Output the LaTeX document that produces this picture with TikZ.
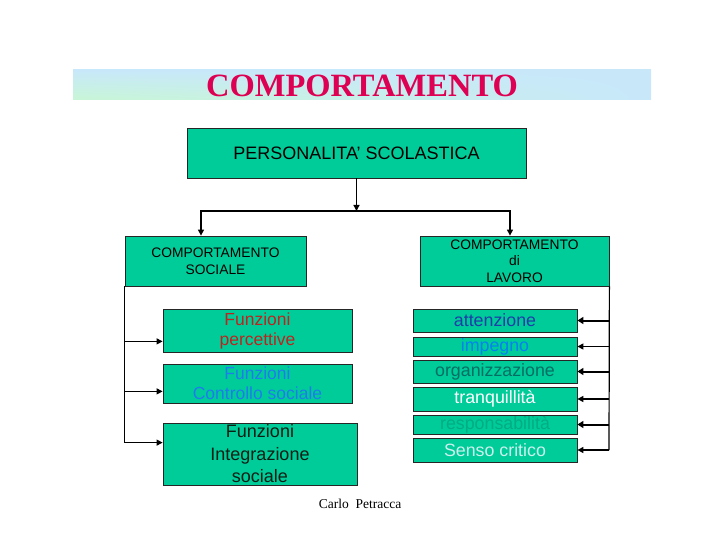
\documentclass[tikz,border=0pt]{standalone}
\usepackage{fontspec}
\setmainfont{Liberation Sans}
\newfontfamily\timesfont{Liberation Serif}
\usetikzlibrary{arrows.meta, positioning, calc, shadings}

\definecolor{boxgreen}{RGB}{0,204,153}
\definecolor{titleblue}{RGB}{200,232,250}
\definecolor{titlegreen}{RGB}{200,246,214}
\definecolor{titlered}{RGB}{222,0,82}
\definecolor{redtxt}{RGB}{190,36,30}
\definecolor{bluetxt}{RGB}{30,125,235}
\definecolor{darktxt}{RGB}{10,30,20}
\definecolor{navytxt}{RGB}{30,60,170}
\definecolor{skytxt}{RGB}{0,130,240}
\definecolor{tealtxt}{RGB}{0,110,100}
\definecolor{whitetxt}{RGB}{255,255,255}
\definecolor{fainttxt}{RGB}{0,172,132}
\definecolor{lighttxt}{RGB}{205,240,238}

\tikzset{
  box/.style={draw=black!85, line width=0.8pt, fill=boxgreen, inner sep=0pt, align=center},
  conn/.style={line width=1.2pt, -{Triangle[length=6pt,width=6pt]}},
  thickconn/.style={line width=2pt, -{Triangle[length=6pt,width=7pt]}}
}

\begin{document}
\begin{tikzpicture}[x=1pt, y=-1pt]
\useasboundingbox (0,0) rectangle (720,540);

% Title band
\shade[upper left=titleblue, lower left=titlegreen, upper right=titleblue, lower right=titleblue]
  (73,70) rectangle (651,100);
\node[font=\timesfont\bfseries\fontsize{32.5}{36}\selectfont, text=titlered] (title) at (362,86) {COMPORTAMENTO};

% Top box
\node[box, minimum width=339pt, minimum height=50pt, font=\fontsize{18}{20}\selectfont] (pers) at (356.5,153) {PERSONALITA’ SCOLASTICA};

% Second level
\node[box, minimum width=181pt, minimum height=50pt, font=\fontsize{13.8}{16.5}\selectfont] (soc) at (215.5,261) {COMPORTAMENTO\\SOCIALE};
\node[box, minimum width=189pt, minimum height=50pt, font=\fontsize{13.8}{16.5}\selectfont] (lav) at (514.5,261) {COMPORTAMENTO\\di\\LAVORO};

\coordinate (barl) at (201,211);
\coordinate (barr) at (510,211);
\draw[conn] (pers.south) -- (pers.south |- barl);
\draw[line width=1.2pt, {Triangle[length=6pt,width=6pt]}-{Triangle[length=6pt,width=6pt]}]
  (barl |- soc.north) -- (barl) -- (barr) -- (barr |- lav.north);

% Left boxes
\node[box, minimum width=189pt, minimum height=43pt, font=\fontsize{17.5}{20}\selectfont, text=redtxt] (fp) at (257.5,330.5) {Funzioni\\percettive};
\node[box, minimum width=189pt, minimum height=39pt, font=\fontsize{17.5}{20}\selectfont, text=bluetxt] (fc) at (257.5,383.5) {Funzioni\\Controllo sociale};
\node[box, minimum width=194pt, minimum height=62pt, font=\fontsize{18}{22.5}\selectfont, text=darktxt] (fi) at (260,454) {Funzioni\\Integrazione\\sociale};

\coordinate (afp) at ($(fp.south west)+(0,-11)$);
\coordinate (afc) at ($(fc.south west)+(0,-12)$);
\coordinate (afi) at ($(fi.north west)+(0,20)$);
\draw[line width=1.2pt] (soc.south west) -- (soc.south west |- afi);
\foreach \a in {afp, afc, afi} {
  \draw[conn] (soc.south west |- \a) -- (\a);
}

% Right boxes
\foreach \n/\t/\c/\y/\h in {1/attenzione/navytxt/320.5/23, 2/impegno/skytxt/346.5/19,
    3/organizzazione/tealtxt/371.5/23, 4/tranquillità/whitetxt/399/24,
    5/responsabilità/fainttxt/424.5/19, 6/Senso critico/lighttxt/450/24} {
  \node[box, minimum width=164pt, minimum height=\h pt, font=\fontsize{17.8}{20}\selectfont, text=\c] (r\n) at (495,\y) {\t};
}

\coordinate (rend) at (609,450);
\draw[line width=1.2pt] (lav.south east) -- (rend);
\foreach \n/\s in {1/thickconn, 2/conn, 3/thickconn, 4/conn, 5/thickconn, 6/conn} {
  \draw[\s] (lav.south east |- r\n.east) -- (r\n.east);
}

% Author
\node[font=\timesfont\fontsize{13.5}{15}\selectfont] (author) at (360,504) {Carlo\ \ Petracca};
\end{tikzpicture}
\end{document}
